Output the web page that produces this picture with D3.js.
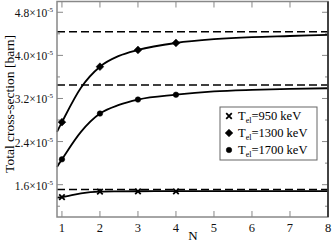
<!DOCTYPE html>
<meta charset="utf-8">
<body style="margin:0;background:#fff">
<script src="https://cdn.jsdelivr.net/npm/d3@7"></script>
<div id="chart"></div>
<script>
// measured points (N, cross-section in units of 1e-5 barn)
var pointN = [1, 2, 3, 4];
var pts950 = [1.37, 1.47, 1.475, 1.475];
var pts1300 = [2.76, 3.79, 4.10, 4.23];
var pts1700 = [2.07, 2.92, 3.18, 3.27];

// fitted curves
var curveN = [0.87, 1, 1.5, 2, 2.5, 3, 4, 5, 6, 7, 8];
var fit950 = [1.36, 1.37, 1.44, 1.47, 1.475, 1.478, 1.48, 1.48, 1.48, 1.48, 1.48];
var fit1300 = [2.58, 2.76, 3.40, 3.79, 3.99, 4.10, 4.23, 4.30, 4.34, 4.36, 4.38];
var fit1700 = [1.93, 2.07, 2.58, 2.92, 3.08, 3.18, 3.27, 3.33, 3.36, 3.38, 3.39];

// asymptotes
var limits = [4.44, 3.45, 1.51];

var xTicks = [1, 2, 3, 4, 5, 6, 7, 8];
var yTicks = [1.6, 2.4, 3.2, 4.0, 4.8];
var yMinor = [1.2, 2.0, 2.8, 3.6, 4.4];
var legendLabels = ["950", "1300", "1700"];

var W = 332, H = 242;
var L = 57, R = 328, T = 1.5, B = 217;

var svg = d3.select("#chart").append("svg")
  .attr("width", W).attr("height", H)
  .style("font-family", "'Liberation Serif', 'Times New Roman', serif");

var x = d3.scaleLinear().domain([0.87, 8]).range([L, R]);
var y = d3.scaleLinear().domain([1.0, 5.0]).range([B, T]);

// ticks (inward, on all four sides)
var tk = svg.append("g").attr("stroke", "#888").attr("stroke-width", 1);
xTicks.forEach(function(v) {
  tk.append("line").attr("x1", x(v)).attr("x2", x(v)).attr("y1", B).attr("y2", B - 6);
  tk.append("line").attr("x1", x(v)).attr("x2", x(v)).attr("y1", T).attr("y2", T + 6);
});
yTicks.forEach(function(v) {
  tk.append("line").attr("x1", L).attr("x2", L + 6).attr("y1", y(v)).attr("y2", y(v));
  tk.append("line").attr("x1", R).attr("x2", R - 6).attr("y1", y(v)).attr("y2", y(v));
});
yMinor.forEach(function(v) {
  tk.append("line").attr("x1", L).attr("x2", L + 3).attr("y1", y(v)).attr("y2", y(v));
  tk.append("line").attr("x1", R).attr("x2", R - 3).attr("y1", y(v)).attr("y2", y(v));
});

// dashed asymptotes
svg.append("g").selectAll("line").data(limits).enter().append("line")
  .attr("x1", L).attr("x2", R)
  .attr("y1", function(d) { return y(d); }).attr("y2", function(d) { return y(d); })
  .attr("stroke", "#000").attr("stroke-width", 1.5).attr("stroke-dasharray", "8,4");

// fitted curves
var line = d3.line()
  .x(function(d) { return x(d[0]); })
  .y(function(d) { return y(d[1]); })
  .curve(d3.curveMonotoneX);
[fit950, fit1300, fit1700].forEach(function(arr) {
  svg.append("path")
    .datum(curveN.map(function(n, i) { return [n, arr[i]]; }))
    .attr("d", line)
    .attr("fill", "none").attr("stroke", "#000").attr("stroke-width", 1.8);
});

// markers: x, diamond (rotated square), dot
var sym = [d3.symbolX, d3.symbolSquare, d3.symbolCircle];
var sizes = [22, 30, 24];
var rot = [0, 45, 0];
[pts950, pts1300, pts1700].forEach(function(arr, k) {
  svg.append("g").selectAll("path").data(arr).enter().append("path")
    .attr("transform", function(d, i) {
      return "translate(" + x(pointN[i]) + "," + y(d) + ") rotate(" + rot[k] + ")";
    })
    .attr("d", d3.symbol().type(sym[k]).size(sizes[k]))
    .attr("fill", "#000")
    .attr("stroke", "#000").attr("stroke-width", k == 0 ? 1.8 : 0.5);
});

// frame
svg.append("rect").attr("x", L).attr("y", T).attr("width", R - L).attr("height", B - T)
  .attr("fill", "none").attr("stroke", "#888").attr("stroke-width", 1.5);
svg.append("line").attr("x1", R).attr("x2", R).attr("y1", T).attr("y2", B)
  .attr("stroke", "#222").attr("stroke-width", 1.5);

// x tick labels
svg.append("g").selectAll("text").data(xTicks).enter().append("text")
  .attr("x", function(d) { return x(d); }).attr("y", 232)
  .attr("text-anchor", "middle").attr("font-size", 12.5).attr("fill", "#111")
  .text(function(d) { return d; });

// y tick labels
var yl = svg.append("g").selectAll("text").data(yTicks).enter().append("text")
  .attr("x", 53).attr("y", function(d) { return y(d) + 5; })
  .attr("text-anchor", "end").attr("font-size", 11.5).attr("fill", "#111");
yl.append("tspan").text(function(d) { return d.toFixed(1) + "\u00d710"; });
yl.append("tspan").attr("dy", -5).attr("font-size", 7).text("-5");

// axis titles
svg.append("text").attr("x", 193).attr("y", 240)
  .attr("text-anchor", "middle").attr("font-size", 13).text("N");
svg.append("text")
  .attr("transform", "translate(14," + 104 + ") rotate(-90)")
  .attr("text-anchor", "middle").attr("font-size", 13.5).text("Total cross-section [barn]");

// legend
var lg = svg.append("g");
lg.append("rect").attr("x", 220).attr("y", 107).attr("width", 97).attr("height", 53)
  .attr("fill", "#fff").attr("stroke", "#666").attr("stroke-width", 1);
legendLabels.forEach(function(lab, k) {
  var yy = 116 + k * 17;
  lg.append("path")
    .attr("transform", "translate(229," + yy + ") rotate(" + rot[k] + ")")
    .attr("d", d3.symbol().type(sym[k]).size(sizes[k]))
    .attr("fill", "#000").attr("stroke", "#000").attr("stroke-width", k == 0 ? 1.8 : 0.5);
  var t = lg.append("text").attr("x", 238).attr("y", yy + 4).attr("font-size", 12.5);
  t.append("tspan").text("T");
  t.append("tspan").attr("dy", 3).attr("font-size", 8).text("el");
  t.append("tspan").attr("dy", -3).text("=" + lab + " keV");
});
</script>
</body>
